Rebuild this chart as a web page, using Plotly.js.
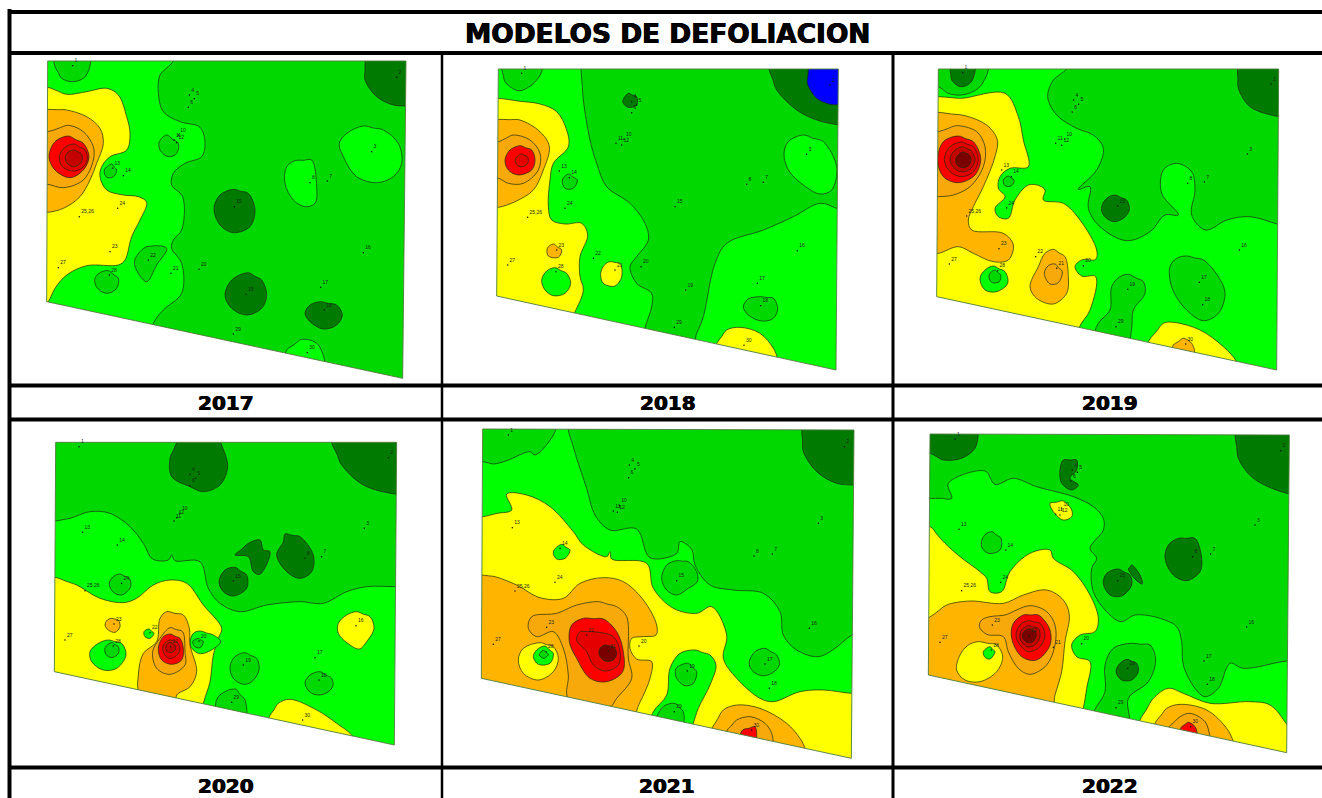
<!DOCTYPE html>
<html><head><meta charset="utf-8">
<script src="https://cdn.plot.ly/plotly-3.0.1.min.js"></script>
<style>html,body{margin:0;padding:0;background:#fff}#c{width:1322px;height:798px}</style>
</head><body><div id="c"></div>
<script>
// Region outlines, in 1/3-pixel units local to each map cell: [level, [x,y, x,y, ...]]
const years = ["2017","2018","2019","2020","2021","2022"];
const title = "MODELOS DE DEFOLIACION";
const levelColors = ["#0000ff","#007a00","#00d800","#00ff00","#ffff00","#ffb400","#f7a90c","#ff0000","#e40000","#c40000","#7a0000"];

const trap2017=[143,183,1218,183,1208,1135,140,905];
const regions2017=[
[2,[520,183,480,225,475,280,490,335,540,365,600,382,615,430,605,470,555,490,520,520,515,555,548,590,545,690,520,720,515,745,545,790,545,880,490,930,460,970,440,1040,1290,1250,1290,100,540,100]],
[4,[143,262,200,283,260,275,320,265,355,285,380,350,390,400,380,450,330,470,305,500,300,530,320,570,370,585,415,590,440,607,420,660,395,710,375,780,355,795,260,797,200,825,165,865,145,905,100,960,100,262]],
[2,[165,200,185,235,215,245,250,235,268,205,268,165,165,165]],
[5,[143,328,200,330,260,350,300,385,310,430,290,490,270,540,240,590,190,625,143,637,100,637,100,328]],
[6,[143,395,205,376,250,395,280,440,280,480,250,540,190,563,143,553,100,553,100,395]],
[7,[205,408,250,430,267,470,250,510,210,533,165,510,147,470,165,425]],
[8,[222,432,255,450,262,478,245,505,215,513,185,497,178,470,195,442]],
[9,[222,450,243,460,247,478,235,495,218,500,200,488,196,472,205,456]],
[2,[500,405,535,430,530,460,505,470,480,450,478,425]],
[2,[335,492,350,510,340,530,320,532,313,510]],
[2,[440,740,470,737,500,745,470,795,440,845,415,820,403,785,420,755]],
[2,[325,812,355,835,350,865,320,880,290,862,285,835,300,818]],
[3,[885,482,935,480,950,560,945,610,915,620,880,600,855,550,860,500]],
[3,[1090,378,1150,390,1195,430,1205,490,1180,530,1130,548,1070,530,1030,470,1018,430,1040,400]],
[3,[860,1050,905,1018,950,1030,975,1085,975,1130,855,1100]],
[1,[1095,183,1095,240,1130,290,1180,315,1218,318,1260,318,1260,150,1095,150]],
[1,[700,568,745,580,765,630,750,680,700,698,660,675,642,625,660,585]],
[1,[745,818,785,840,800,885,785,925,740,945,695,925,675,885,695,840]],
[1,[960,905,1010,915,1027,945,1010,975,970,987,930,965,915,940,930,915]]
];
const labelText=["1","2","3","4","5","6","10","11","12","13","14","24","25,26","23","27","28","22","21","20","15","19","16","17","18","29","30","8","7"];
const labels2017=[218,197,1190,232,1115,455,568,285,583,296,565,322,535,405,522,420,530,428,338,505,370,527,353,625,238,650,330,755,175,803,328,825,445,780,513,820,597,808,703,620,738,883,1090,758,962,862,973,930,700,1002,922,1058,930,548,982,543];

const trap2018=[175,207,1195,207,1188,1110,170,888];
const regions2018=[
[2,[423,207,430,300,450,420,470,490,500,560,570,610,615,670,625,720,590,770,570,800,590,850,635,880,635,920,615,985,610,1040,770,1070,765,1020,790,950,825,790,860,730,970,690,1060,650,1140,610,1190,625,1230,640,1230,170,423,170]],
[1,[987,207,1010,270,1070,330,1130,360,1195,375,1230,380,1230,170,987,170]],
[0,[1105,207,1102,250,1130,295,1170,313,1195,314,1230,314,1230,170,1105,170]],
[1,[565,280,590,290,590,315,565,322,548,305]],
[2,[185,207,195,245,235,272,275,255,305,215,305,170,185,170]],
[3,[1090,405,1150,425,1190,500,1175,570,1140,582,1090,555,1045,510,1032,460,1045,425]],
[2,[960,890,1000,895,1013,925,1000,955,965,963,925,945,910,920,925,897]],
[4,[175,295,300,312,350,335,380,390,385,440,340,490,330,540,325,620,335,660,375,672,425,670,443,705,420,770,420,830,430,870,403,940,380,985,130,930,130,295]],
[4,[510,785,540,790,545,830,525,858,490,850,482,820,495,793]],
[4,[830,1030,860,990,900,982,960,1000,1000,1045,1012,1075,1012,1120,810,1070]],
[5,[175,358,240,360,300,395,328,440,310,510,280,570,225,605,175,622,130,622,130,358]],
[6,[175,425,220,405,270,420,300,460,295,510,250,550,205,550,175,535,130,535,130,425]],
[7,[240,437,275,450,285,480,275,510,235,525,205,510,195,480,210,450]],
[8,[245,462,262,470,265,485,255,497,240,500,228,490,227,475]],
[5,[340,732,365,750,355,772,325,768,322,745]],
[3,[345,803,380,820,392,850,375,880,340,887,315,870,305,840,320,813]],
[2,[385,522,412,540,400,565,375,565,367,540]]
];
const labels2018=[245,220,1170,255,1100,463,575,305,590,315,575,338,552,418,528,430,545,435,358,513,388,533,375,625,263,652,350,750,203,795,348,815,460,775,525,810,603,800,705,620,737,870,1072,752,952,850,962,917,703,982,912,1036,920,553,970,547];

const trap2019=[145,207,1166,207,1160,1110,140,890];
const regions2019=[
[2,[530,207,490,240,473,290,500,345,560,385,610,405,640,445,620,510,565,568,600,560,595,625,630,680,710,722,780,695,825,645,865,645,815,580,820,510,860,490,905,515,915,570,905,645,947,690,1010,660,1080,650,1162,672,1200,680,1200,170,550,170]],
[1,[1042,207,1045,265,1080,320,1166,350,1200,352,1200,170,1042,170]],
[1,[675,585,710,600,718,630,700,655,670,665,640,645,635,620,650,595]],
[2,[145,260,175,280,215,285,265,265,295,210,295,170,110,170,110,260]],
[1,[180,207,185,240,210,260,240,250,255,215,255,170,180,170]],
[4,[145,290,215,295,345,280,385,350,400,420,415,500,360,505,330,530,325,565,345,590,315,625,325,650,355,655,375,600,415,555,450,558,465,570,460,600,520,610,570,660,620,750,617,778,575,780,555,800,575,828,617,830,600,930,568,982,560,1040,100,930,100,290]],
[5,[145,337,225,347,290,375,322,420,315,470,280,560,250,620,235,660,245,690,340,700,370,735,355,780,310,785,250,760,205,740,145,760,100,760,100,337]],
[6,[145,395,200,377,260,395,285,440,280,500,240,560,190,585,145,590,100,590,100,395]],
[7,[205,408,250,425,272,475,255,525,205,548,160,530,143,480,160,425]],
[8,[215,426,250,440,265,478,250,515,215,530,180,515,163,478,180,440]],
[9,[218,440,243,452,255,478,243,505,218,516,193,505,180,478,193,452]],
[10,[220,456,237,464,243,480,235,497,220,503,203,497,197,480,205,464]],
[5,[490,748,525,770,535,830,530,880,490,912,440,895,420,860,445,800,465,760]],
[6,[495,792,517,815,505,848,480,852,463,820,475,797]],
[4,[778,1020,820,970,850,967,930,990,1000,1040,1040,1085,1060,1140,760,1070]],
[5,[850,1035,880,1015,905,1030,912,1060,848,1048]],
[3,[310,798,345,815,353,850,320,875,285,870,270,835,285,810]],
[2,[315,810,332,825,328,845,305,847,297,825]],
[2,[355,528,372,540,365,557,345,557,340,540]],
[2,[715,823,760,845,765,880,730,930,725,985,710,1040,615,1010,625,970,660,930,665,860,690,830]],
[2,[890,768,940,780,985,830,1005,880,985,940,940,962,885,925,845,860,840,800,860,775]]
];
const labels2019=[218,218,1143,252,1072,462,551,300,566,313,547,336,524,417,497,430,515,436,335,510,364,530,350,624,230,648,327,746,178,792,323,812,437,770,500,805,580,797,683,618,713,868,1048,750,928,847,938,914,678,980,887,1032,893,550,943,546];

const trap2020=[167,82,1190,82,1183,990,163,770];
const regions2020=[
[2,[167,318,210,310,270,290,330,295,390,335,430,385,458,432,505,435,515,420,525,437,600,440,625,520,660,565,720,590,800,570,900,560,970,565,1040,530,1100,515,1187,515,1230,515,1230,50,130,50,130,318]],
[1,[995,82,1025,150,1090,210,1190,238,1230,238,1230,50,995,50]],
[1,[530,82,510,130,515,185,570,215,610,230,660,210,683,155,665,90,650,60,540,60]],
[1,[855,357,900,365,940,420,935,470,900,490,860,470,830,420,850,380]],
[1,[705,420,745,385,780,375,790,405,810,410,780,478,760,470,745,425]],
[1,[705,457,740,480,740,520,700,543,670,530,657,500,675,465]],
[4,[165,487,230,510,300,550,370,563,410,550,460,510,510,495,560,505,610,570,665,640,655,670,640,720,630,800,610,865,600,920,100,790,100,487]],
[3,[600,648,640,660,662,680,625,710,595,715,570,690,580,655]],
[2,[595,670,610,680,600,698,585,695,578,680]],
[5,[500,590,550,600,568,640,570,690,590,770,570,815,530,840,525,870,420,835,415,780,430,715,470,680,480,610]],
[6,[510,638,548,650,555,710,555,750,510,778,470,760,458,710,480,670]],
[7,[510,657,540,670,550,700,545,735,515,748,485,735,475,700,490,665]],
[8,[510,675,530,680,540,705,525,725,505,730,490,710,490,690]],
[9,[512,682,524,690,527,702,516,712,502,710,497,697,502,686]],
[5,[335,610,355,615,360,635,345,652,325,645,315,630,322,615]],
[3,[447,642,462,655,450,670,435,665,432,650]],
[3,[325,675,365,685,378,720,350,760,310,765,275,740,270,710,295,685]],
[2,[335,683,355,695,355,715,335,728,318,718,315,698]],
[2,[360,477,388,490,392,515,365,540,338,530,328,505,340,485]],
[4,[1070,590,1110,605,1122,640,1100,680,1078,702,1050,690,1015,655,1015,625,1040,600]],
[2,[735,713,770,730,777,765,755,800,730,808,700,790,690,755,705,725]],
[2,[960,770,995,790,998,815,970,838,935,835,915,805,930,780]],
[2,[705,822,735,855,735,910,650,885,655,845]],
[4,[808,905,835,865,870,853,950,885,1010,925,1058,965,1060,1000,800,940]]
];
const labels2020=[237,95,1165,128,1093,340,570,178,587,190,570,212,540,295,522,318,530,308,248,352,352,390,365,505,255,527,342,627,195,675,340,693,450,653,512,695,597,678,700,498,730,750,1068,632,945,728,957,795,695,862,908,915,915,430,965,425];

const trap2021=[128,42,1242,45,1234,1030,124,790];
const regions2021=[
[2,[385,45,410,130,440,220,465,300,510,345,590,342,630,428,710,415,720,380,755,403,765,450,810,510,880,525,970,535,1020,590,1030,660,1070,705,1135,725,1185,700,1236,660,1280,650,1280,10,385,10]],
[1,[1085,45,1090,110,1130,170,1190,205,1242,210,1280,210,1280,10,1085,10]],
[2,[128,140,160,147,200,137,270,110,285,120,345,50,345,10,90,10,90,140]],
[4,[128,305,215,285,200,237,260,240,330,275,400,350,430,390,500,425,510,410,515,432,620,445,640,520,700,580,770,595,815,575,860,660,850,730,890,790,960,850,1000,860,1080,830,1150,825,1234,835,1280,835,1280,1070,90,800,90,305]],
[3,[765,705,810,720,828,750,810,810,775,880,760,925,750,960,630,930,640,890,680,840,690,760,720,715]],
[2,[745,745,770,770,760,805,735,812,710,790,708,760]],
[2,[705,865,730,890,725,940,650,920,670,875]],
[5,[125,480,165,485,230,510,300,548,370,550,420,505,490,488,550,500,610,555,650,630,648,660,610,665,575,670,570,700,590,732,635,740,630,790,615,830,590,888,590,930,90,800,90,480]],
[4,[300,683,340,695,355,730,340,770,295,795,250,775,235,735,250,700]],
[3,[315,693,340,715,330,745,295,748,280,725,290,705]],
[2,[310,705,325,718,312,730,298,720]],
[3,[365,388,390,405,375,430,350,432,340,410]],
[6,[475,560,530,575,560,605,565,730,575,790,530,850,505,880,385,850,385,780,370,700,340,650,290,665,265,640,275,605,350,595,410,570]],
[7,[430,610,490,612,530,650,550,710,548,770,500,800,450,790,410,730,388,680,395,630]],
[8,[420,650,460,650,520,665,540,710,535,750,495,768,460,750,440,710,410,675]],
[10,[495,690,520,695,530,715,520,735,495,738,478,720,480,700]],
[5,[815,940,850,885,890,870,960,880,1040,925,1080,970,1095,1000,1100,1040,790,970]],
[6,[862,945,890,915,930,905,975,925,995,955,1000,985,1000,1020,850,985]],
[7,[908,945,945,935,950,965,945,990,900,975]],
[2,[710,437,745,440,770,470,772,500,745,520,710,540,680,525,665,490,680,450]],
[2,[975,700,1010,720,1018,750,995,775,965,782,935,765,928,740,945,710]]
];
const labels2021=[205,60,1213,95,1135,325,568,150,585,162,566,188,538,272,520,288,532,292,217,338,360,400,345,502,225,528,320,637,160,688,318,710,440,660,505,708,597,693,710,497,742,768,1108,640,975,747,988,820,703,890,935,945,942,423,997,417];

const trap2022=[120,57,1198,60,1190,1013,115,780];
const regions2022=[
[2,[120,250,185,250,175,205,285,168,315,208,370,190,440,215,550,245,610,275,640,310,640,345,600,400,620,430,605,460,610,530,650,590,693,620,735,600,810,610,860,635,875,680,880,750,915,820,945,845,985,820,1020,745,1060,760,1190,738,1240,738,1240,20,80,20,80,250]],
[1,[1035,60,1045,130,1090,190,1198,237,1240,237,1240,20,1035,20]],
[1,[120,115,160,135,215,130,255,100,265,57,265,20,80,20,80,115]],
[1,[520,135,560,135,560,165,540,190,565,210,545,225,515,205,510,165]],
[4,[480,265,520,258,545,285,545,305,520,315,490,290]],
[1,[865,370,915,370,935,430,930,470,890,497,850,480,825,430,835,390]],
[1,[685,462,720,480,725,510,695,543,660,540,640,505,650,475]],
[1,[715,462,725,450,750,480,757,507,740,497,725,480]],
[4,[120,335,165,385,210,425,270,470,290,490,300,530,335,530,360,470,420,415,480,405,490,430,550,470,600,540,625,610,615,650,570,660,545,690,560,725,600,740,590,820,580,880,570,920,80,790,80,335]],
[5,[118,607,170,570,240,558,340,565,400,540,470,525,520,555,538,600,525,680,515,770,495,840,480,900,80,790,80,620]],
[6,[300,605,345,600,420,572,470,590,495,630,495,690,470,750,420,778,385,760,355,710,340,665,290,658,268,635,275,615]],
[7,[400,600,445,600,478,640,480,690,440,735,395,725,365,670,370,625]],
[8,[415,617,450,625,465,660,450,695,415,710,390,690,378,660,390,630]],
[9,[415,632,445,640,450,665,435,690,410,695,390,670,395,645]],
[10,[418,642,435,648,438,665,428,680,412,682,398,668,402,650]],
[4,[265,680,320,690,338,725,320,770,270,800,225,795,200,765,210,720,235,690]],
[3,[300,695,315,710,300,732,285,727,280,710]],
[2,[720,685,780,690,797,735,775,800,715,850,715,930,610,905,645,830,645,750,670,700]],
[1,[712,733,740,745,745,770,725,795,695,795,678,770,690,745]],
[2,[305,350,333,370,330,405,295,415,275,395,280,365]],
[4,[750,915,790,850,835,820,880,835,960,865,1080,860,1140,870,1192,930,1240,1000,1240,1060,740,950]],
[5,[798,920,830,880,870,868,950,885,1010,940,1030,980,1040,1020,785,965]],
[6,[838,935,870,905,900,895,945,920,960,965,965,1000,825,970]],
[7,[875,935,895,922,915,935,920,965,870,955]]
];
const labels2022=[195,72,1172,107,1095,330,547,165,562,172,543,198,515,282,497,298,510,300,207,343,347,405,332,502,215,527,307,630,150,682,304,705,418,662,490,697,575,686,683,497,713,760,1070,636,942,738,952,808,678,878,902,935,908,425,962,417];

const panels=[
 {trap:trap2017,regions:regions2017,labels:labels2017,ox:0,oy:0},
 {trap:trap2018,regions:regions2018,labels:labels2018,ox:440,oy:0},
 {trap:trap2019,regions:regions2019,labels:labels2019,ox:890,oy:0},
 {trap:trap2020,regions:regions2020,labels:labels2020,ox:0,oy:415},
 {trap:trap2021,regions:regions2021,labels:labels2021,ox:440,oy:415},
 {trap:trap2022,regions:regions2022,labels:labels2022,ox:890,oy:415}
];

const traces=[];
function pts(p,arr){
  const x=[],y=[];
  for(let i=0;i<arr.length;i+=2){x.push(p.ox+arr[i]/3);y.push(p.oy+arr[i+1]/3);}
  return {x,y};
}
function closedPoly(p,arr){ const q=pts(p,arr); q.x.push(q.x[0]); q.y.push(q.y[0]); return q; }
// Start and end a loop halfway along its first side, so the spline has no visible seam
function smoothLoop(p,arr){
  const q=pts(p,arr), sx=(q.x[0]+q.x[1])/2, sy=(q.y[0]+q.y[1])/2;
  return {x:[sx,...q.x.slice(1),q.x[0],sx],y:[sy,...q.y.slice(1),q.y[0],sy]};
}
panels.forEach(p=>{
  const t=closedPoly(p,p.trap);
  traces.push({x:t.x,y:t.y,mode:'lines',fill:'toself',fillcolor:levelColors[3],line:{width:0},hoverinfo:'skip',showlegend:false});
  p.regions.forEach(r=>{
    const q=smoothLoop(p,r[1]);
    traces.push({x:q.x,y:q.y,mode:'lines',fill:'toself',fillcolor:levelColors[r[0]],
      line:{color:'#1c2a12',width:0.7,shape:'spline',smoothing:1,simplify:false},hoverinfo:'skip',showlegend:false});
  });
});
// white page with one hole per map, so the contour fills stop at each map's outline
const maskX=[0,1322,1322,0,0], maskY=[0,0,798,798,0];
panels.forEach(p=>{
  const t=closedPoly(p,p.trap);
  maskX.push(null,...t.x.slice().reverse());
  maskY.push(null,...t.y.slice().reverse());
});
traces.push({x:maskX,y:maskY,mode:'lines',fill:'toself',fillcolor:'#ffffff',line:{width:0},connectgaps:false,hoverinfo:'skip',showlegend:false});
panels.forEach(p=>{
  const t=closedPoly(p,p.trap);
  traces.push({x:t.x,y:t.y,mode:'lines',line:{color:'#4e7a3a',width:0.9},hoverinfo:'skip',showlegend:false});
  const l=pts(p,p.labels);
  traces.push({x:l.x,y:l.y,mode:'markers+text',text:labelText,textposition:'top right',
    textfont:{size:5,family:'Liberation Sans',color:'#1a2a1a'},marker:{size:1.5,color:'#111'},hoverinfo:'skip',showlegend:false,cliponaxis:false});
});

function rule(x0,y0,x1,y1,w){return {type:'line',xref:'x',yref:'y',x0,y0,x1,y1,line:{color:'#000',width:w},layer:'above'};}
const shapes=[
 rule(8,12,1322,12,4),rule(9.5,9,9.5,798,4),
 rule(8,53,1322,53,4),rule(8,385.5,1322,385.5,4),rule(8,419.5,1322,419.5,4),rule(8,767.5,1322,767.5,4),
 rule(442,53,442,798,2.5),rule(893,53,893,798,3)
];
function ann(text,x,y,size){return {text,x,y,xref:'x',yref:'y',showarrow:false,xanchor:'center',yanchor:'middle',
  font:{family:'DejaVu Sans',size,color:'#000',weight:700,shadow:'0.5px 0 0 #000, -0.5px 0 0 #000'}};}
const annX=[225.5,667.5,1109.7,225.5,667,1109.7], annY=[403,403,403,786,786,786];
const annotations=[ann(title,667.5,33,26.4)].concat(years.map((y,i)=>ann(y,annX[i],annY[i],20)));

Plotly.newPlot('c',traces,{
  width:1322,height:798,margin:{l:0,r:0,t:0,b:0,pad:0},paper_bgcolor:'#fff',plot_bgcolor:'#fff',showlegend:false,
  xaxis:{range:[0,1322],visible:false,fixedrange:true},
  yaxis:{range:[798,0],visible:false,fixedrange:true},
  shapes,annotations
},{staticPlot:true,displayModeBar:false});
</script></body></html>
